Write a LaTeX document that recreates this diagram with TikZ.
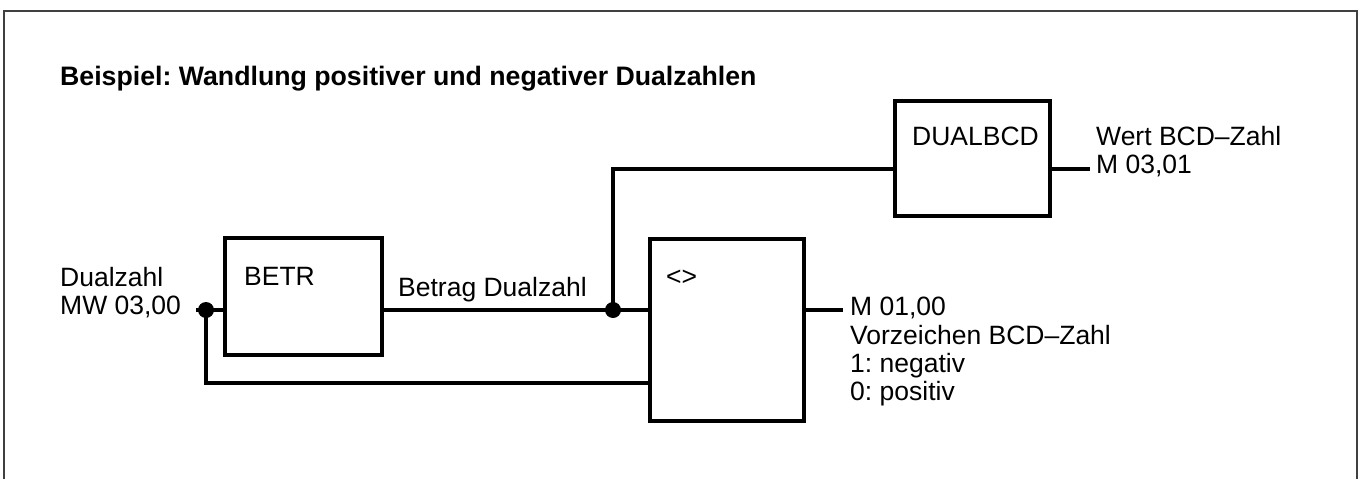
\documentclass[tikz,border=0pt]{standalone}
\usepackage{fontspec}
\setmainfont{Liberation Sans}
\frenchspacing
\begin{document}
\begin{tikzpicture}[x=1pt,y=-1pt,
  blk/.style={draw,line width=4pt,minimum width=0pt,inner sep=0pt},
  wire/.style={line width=4pt},
  lbl/.style={inner sep=0pt,anchor=base west,font=\fontsize{26.5}{30}\selectfont},
  dot/.style={circle,fill=black,inner sep=0pt,minimum size=16pt}]
\useasboundingbox (0,0) rectangle (1365,479);
\draw[line width=1.5pt,black!75] (4,479) -- (4,11) -- (1357,11) -- (1357,479);
\node[lbl,font=\fontsize{26.7}{30}\selectfont\bfseries] (title) at (60,85) {Beispiel: Wandlung positiver und negativer Dualzahlen};
% boxes
\draw[blk] (225,238) rectangle (382,355);
\coordinate (betrL) at (225,310);
\coordinate (betrR) at (382,310);
\node[lbl] (betr) at (244,285) {BETR};
\draw[blk] (650,239) rectangle (804,421);
\coordinate (cmpL) at (650,310);
\coordinate (cmpL2) at (650,383);
\coordinate (cmpR) at (804,310);
\node[lbl] (cmp) at (666,285) {<>};
\draw[blk] (895,101) rectangle (1050,216);
\coordinate (dbL) at (895,169);
\coordinate (dbR) at (1050,169);
\node[lbl] (db) at (912,145) {DUALBCD};
% input
\node[lbl] (in1) at (60,286) {Dualzahl};
\node[lbl] (in2) at (60,314) {MW 03,00};
\coordinate (inS) at (196,310);
\node[dot] (d1) at (206,310) {};
\draw[wire] (inS) -- (betrL);
\draw[wire] (d1.center) -- (206,383) -- (cmpL2);
% Betrag
\node[lbl] (betrag) at (398,296) {Betrag Dualzahl};
\node[dot] (d2) at (613,310) {};
\draw[wire] (betrR) -- (cmpL);
\draw[wire] (d2.center) -- (613,169) -- (dbL);
% outputs
\coordinate (o1) at (1090,169);
\draw[wire] (dbR) -- (o1);
\node[lbl] (w1) at (1096,145) {Wert BCD–Zahl};
\node[lbl] (w2) at (1096,173) {M 03,01};
\coordinate (o2) at (843,310);
\draw[wire] (cmpR) -- (o2);
\node[lbl] (m1) at (850,315) {M 01,00};
\node[lbl] (m2) at (850,344) {Vorzeichen BCD–Zahl};
\node[lbl] (m3) at (850,372) {1: negativ};
\node[lbl] (m4) at (850,400) {0: positiv};
\end{tikzpicture}
\end{document}
